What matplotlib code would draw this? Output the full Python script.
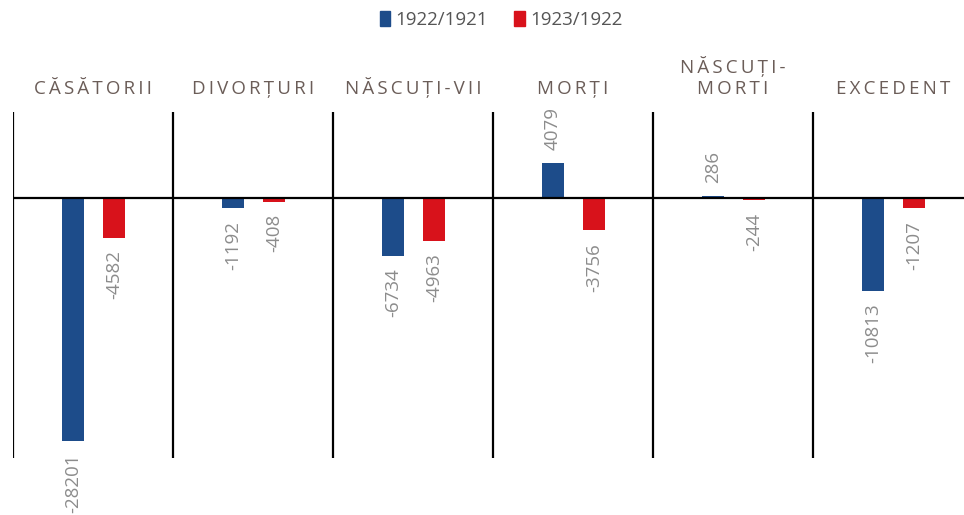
import numpy as np
import matplotlib
matplotlib.use("Agg")
import matplotlib.pyplot as plt
from matplotlib.patches import Patch

plt.rcParams['font.family'] = ['Open Sans', 'DejaVu Sans']

categories = ["CĂSĂTORII", "DIVORȚURI", "NĂSCUȚI-VII",
              "MORȚI", "NĂSCUȚI-\nMORTI", "EXCEDENT"]
diff_1922 = [-28201, -1192, -6734, 4079, 286, -10813]
diff_1923 = [-4582, -408, -4963, -3756, -244, -1207]
series_names = ["1922/1921", "1923/1922"]

blue = "#1d4c8a"
red = "#d8121b"
label_col = "#8c8c8c"
cat_col = "#6b5d58"


def spaced(s):
    # letter spacing with thin spaces
    return "\n".join("\u2009".join(line) for line in s.split("\n"))


fig = plt.figure(figsize=(9.64, 5.15), dpi=100)
ax = fig.add_axes([13 / 964, 1 - 458 / 515, 1 - 13 / 964, 346 / 515])

x = np.arange(len(categories))
w = 0.1375
b1 = ax.bar(x + 0.375, diff_1922, width=w, color=blue, zorder=2)
b2 = ax.bar(x + 0.63, diff_1923, width=w, color=red, zorder=2)

for bars, vals in [(b1, diff_1922), (b2, diff_1923)]:
    for rect, v in zip(bars, vals):
        cx = rect.get_x() + rect.get_width() / 2
        off = 9 if v > 0 else -9
        ax.annotate(str(v), (cx, v), xytext=(0, off), textcoords="offset points",
                    rotation=90, ha="center", va="bottom" if v > 0 else "top",
                    fontsize=13.5, color=label_col)

for i in range(len(categories)):
    ax.axvline(i, color="black", lw=1.6, zorder=3)
ax.axhline(0, color="black", lw=1.6, zorder=3)

for i, name in enumerate(categories):
    ax.text(i + 0.5, 1.04, spaced(name), transform=ax.get_xaxis_transform(),
            ha="center", va="bottom", fontsize=13.5, color=cat_col,
            linespacing=1.2)

ax.set_xlim(0, (964 - 13) / 160)
ax.set_ylim(-30160, 9980)
ax.axis("off")

handles = [Patch(color=blue), Patch(color=red)]
fig.legend(handles, series_names, ncol=2, frameon=False, loc="center",
           bbox_to_anchor=(0.52, 1 - 20 / 515), handlelength=0.55, handleheight=0.8,
           handletextpad=0.3, columnspacing=1.4, fontsize=13.5, labelcolor="#555555")

fig.savefig("out.png", dpi=100)
